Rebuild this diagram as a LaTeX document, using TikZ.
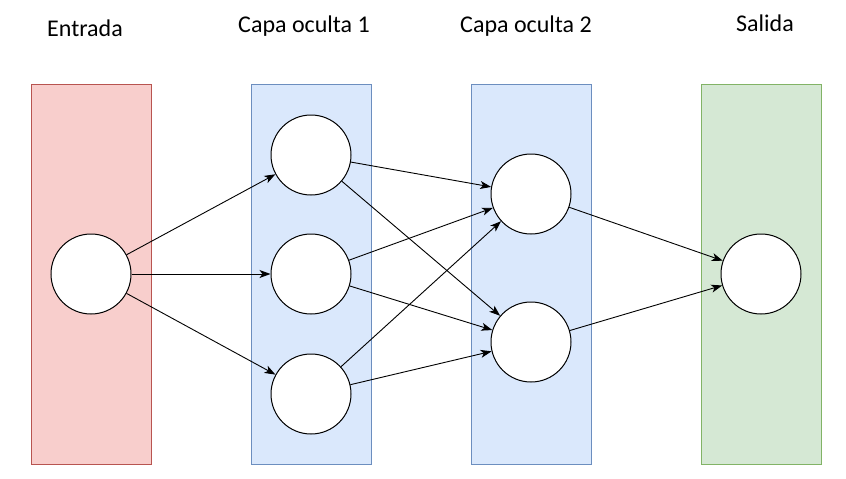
\documentclass[tikz,border=0pt]{standalone}
\usepackage{fontspec}
\setmainfont{Carlito}
\usetikzlibrary{arrows.meta}
\definecolor{redfill}{HTML}{F8CECC}
\definecolor{redline}{HTML}{B85450}
\definecolor{bluefill}{HTML}{DAE8FC}
\definecolor{blueline}{HTML}{6C8EBF}
\definecolor{greenfill}{HTML}{D5E8D4}
\definecolor{greenline}{HTML}{82B366}
\begin{document}
\begin{tikzpicture}[x=1pt, y=-1pt, >={Stealth[length=11pt,width=8pt,inset=3pt]},
    layer/.style={draw, line width=0.8pt, minimum width=120pt, minimum height=380pt, inner sep=0pt},
    neuron/.style={circle, draw, fill=white, line width=1pt, minimum size=80pt, inner sep=0pt},
    title/.style={anchor=base, font=\fontsize{24}{29}\selectfont},
    edge/.style={->, line width=0.9pt}]
      \useasboundingbox (0, 0) rectangle (846, 479);

      % capas
      \node[layer, fill=redfill, draw=redline] (lin) at (91, 274) {};
      \node[layer, fill=bluefill, draw=blueline] (lh1) at (311, 274) {};
      \node[layer, fill=bluefill, draw=blueline] (lh2) at (531, 274) {};
      \node[layer, fill=greenfill, draw=greenline] (lout) at (761, 274) {};

      \node[title] (tin) at (85, 36) {Entrada};
      \node[title] (th1) at (304, 32) {Capa oculta 1};
      \node[title] (th2) at (526, 32) {Capa oculta 2};
      \node[title] (tout) at (765, 31) {Salida};

      % neuronas
      \node[neuron] (in1) at (91, 274) {};
      \node[neuron] (h1a) at (311, 155) {};
      \node[neuron] (h1b) at (311, 274) {};
      \node[neuron] (h1c) at (311, 394) {};
      \node[neuron] (h2a) at (531, 194) {};
      \node[neuron] (h2b) at (531, 342) {};
      \node[neuron] (out1) at (761, 274) {};

      \foreach \h in {h1a, h1b, h1c}
        \draw[edge] (in1) -- (\h);
      \foreach \h in {h1a, h1b, h1c}
        \foreach \g in {h2a, h2b}
          \draw[edge] (\h) -- (\g);
      \foreach \g in {h2a, h2b}
        \draw[edge] (\g) -- (out1);
    \end{tikzpicture}
\end{document}
